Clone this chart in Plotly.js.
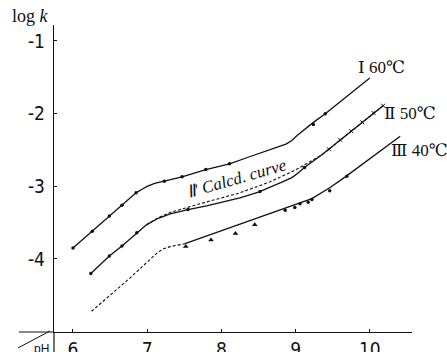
<!DOCTYPE html>
<html>
<head>
<meta charset="utf-8">
<script src="https://cdn.plot.ly/plotly-3.0.1.min.js"></script>
<style>html,body{margin:0;padding:0;background:#fff;}#chart{width:447px;height:352px;}</style>
</head>
<body>
<div id="chart"></div>
<script>
// Curve I (60 °C)
const c1_pH   = [6.00, 6.26, 6.49, 6.66, 6.85, 6.93, 7.00, 7.10, 7.23, 7.47, 7.79, 8.11, 8.36, 8.70, 8.87, 8.95, 9.02, 9.24, 9.40, 10.00];
const c1_logk = [-3.85, -3.62, -3.41, -3.26, -3.09, -3.04, -3.00, -2.96, -2.93, -2.87, -2.77, -2.69, -2.60, -2.48, -2.42, -2.37, -2.30, -2.12, -2.00, -1.51];
const p1_pH   = [6.00, 6.26, 6.49, 6.66, 6.85, 7.23, 7.47, 7.79, 8.11, 9.24, 9.40];
const p1_logk = [-3.85, -3.62, -3.41, -3.26, -3.09, -2.93, -2.87, -2.77, -2.69, -2.15, -2.00];

// Curve II (50 °C)
const c2_pH   = [6.24, 6.49, 6.66, 6.86, 6.99, 7.15, 7.31, 7.55, 7.80, 8.25, 8.50, 8.80, 8.95, 9.03, 9.12, 9.35, 9.65, 10.18];
const c2_logk = [-4.20, -3.96, -3.82, -3.64, -3.53, -3.44, -3.38, -3.32, -3.27, -3.16, -3.08, -2.95, -2.88, -2.82, -2.74, -2.57, -2.32, -1.89];
const p2_pH   = [6.24, 6.49, 6.66, 6.86, 7.55, 8.52, 9.12];
const p2_logk = [-4.20, -3.96, -3.82, -3.64, -3.32, -3.07, -2.74];
const x2_pH   = [9.45, 9.60, 9.75, 9.90, 10.05, 10.18];
const x2_logk = [-2.49, -2.36, -2.24, -2.12, -1.99, -1.89];

// Curve II' (calculated)
const cc_pH   = [6.99, 7.15, 7.31, 7.71, 8.25, 8.65, 9.01, 9.35, 10.18];
const cc_logk = [-3.53, -3.43, -3.36, -3.24, -3.09, -2.94, -2.77, -2.57, -1.89];

// Curve III (40 °C)
const c3d_pH   = [6.25, 6.77, 7.13, 7.22, 7.31, 7.51];
const c3d_logk = [-4.72, -4.26, -3.92, -3.86, -3.83, -3.79];
const c3_pH    = [7.51, 8.61, 8.92, 9.06, 9.22, 9.46, 9.67, 10.41];
const c3_logk  = [-3.79, -3.39, -3.28, -3.23, -3.17, -3.02, -2.87, -2.31];
const t3_pH    = [7.52, 7.86, 8.19, 8.45];
const t3_logk  = [-3.83, -3.74, -3.65, -3.53];
const p3_pH    = [8.86, 8.99, 9.06, 9.17, 9.22, 9.46, 9.69];
const p3_logk  = [-3.33, -3.29, -3.24, -3.22, -3.18, -3.06, -2.86];

// Ticks
const xTicks = [6, 7, 8, 9, 10];
const xTickText = ["6", "7", "8", "9", "10"];
const yTicks = [-1, -2, -3, -4];
const yTickText = ["-1", "-2", "-3", "-4"];

const black = '#111';
const solid = {color: black, width: 1.3};
const dashed = {color: black, width: 1.1, dash: '3px,2px'};

const traces = [
  {x: c1_pH, y: c1_logk, mode: 'lines', line: solid},
  {x: p1_pH, y: p1_logk, mode: 'markers', marker: {color: black, size: 3.5}},
  {x: cc_pH, y: cc_logk, mode: 'lines', line: dashed},
  {x: c2_pH, y: c2_logk, mode: 'lines', line: solid},
  {x: p2_pH, y: p2_logk, mode: 'markers', marker: {color: black, size: 3.5}},
  {x: x2_pH, y: x2_logk, mode: 'markers', marker: {color: black, size: 4, symbol: 'x-thin', line: {color: black, width: 1}}},
  {x: c3d_pH, y: c3d_logk, mode: 'lines', line: dashed},
  {x: c3_pH, y: c3_logk, mode: 'lines', line: solid},
  {x: t3_pH, y: t3_logk, mode: 'markers', marker: {color: black, size: 5, symbol: 'triangle-up'}},
  {x: p3_pH, y: p3_logk, mode: 'markers', marker: {color: black, size: 3.5}}
];

const tickFont = {family: '"Liberation Sans Narrow", "DejaVu Sans Condensed", "Liberation Sans", sans-serif', size: 19, color: black};
const labelFont = {family: '"Liberation Serif", "DejaVu Serif", serif', size: 17, color: black};

const layout = {
  width: 447, height: 352,
  margin: {l: 54, r: 35, t: 25, b: 20},
  paper_bgcolor: '#fff', plot_bgcolor: '#fff',
  showlegend: false,
  xaxis: {
    range: [5.744, 10.569], showgrid: false, zeroline: false,
    showline: true, linecolor: black, linewidth: 1.2,
    ticks: 'inside', ticklen: 3, tickcolor: black,
    tickvals: xTicks, ticktext: xTickText, tickfont: tickFont,
    ticklabelstandoff: 0
  },
  yaxis: {
    range: [-5.005, -0.78], showgrid: false, zeroline: false,
    showline: true, linecolor: black, linewidth: 1.2,
    ticks: 'inside', ticklen: 3, tickcolor: black,
    tickvals: yTicks, ticktext: yTickText, tickfont: tickFont,
    ticklabelstandoff: 4
  },
  shapes: [
    {type: 'line', xref: 'paper', yref: 'paper', x0: -0.098, x1: 0, y0: 0, y1: 0, line: {color: black, width: 1.2}},
    {type: 'line', xref: 'paper', yref: 'paper', x0: 0, x1: 0, y0: 0, y1: -0.07, line: {color: black, width: 1.2}},
    {type: 'line', xref: 'paper', yref: 'paper', x0: -0.1006, x1: -0.0112, y0: -0.052, y1: 0.0033, line: {color: black, width: 1}}
  ],
  annotations: [
    {xref: 'paper', yref: 'paper', x: -0.067, y: 1.029, xanchor: 'center', yanchor: 'middle', text: 'log <i>k</i>', showarrow: false, font: {family: '"Liberation Serif", serif', size: 18, color: black}},
    {xref: 'paper', yref: 'paper', x: -0.034, y: -0.055, xanchor: 'center', yanchor: 'middle', text: 'pH', showarrow: false, font: {family: '"Liberation Sans", sans-serif', size: 12, color: black}},
    {xref: 'paper', yref: 'paper', x: 0.916, y: 0.860, xanchor: 'center', yanchor: 'middle', text: 'Ⅰ 60℃', showarrow: false, font: labelFont},
    {xref: 'paper', yref: 'paper', x: 0.994, y: 0.713, xanchor: 'center', yanchor: 'middle', text: 'Ⅱ 50℃', showarrow: false, font: labelFont},
    {xref: 'paper', yref: 'paper', x: 1.022, y: 0.590, xanchor: 'center', yanchor: 'middle', text: 'Ⅲ 40℃', showarrow: false, font: labelFont},
    {x: 8.21, y: -2.89, text: "<i>Ⅱ' Calcd. curve</i>", textangle: -16, showarrow: false, font: {family: '"Liberation Serif", serif', size: 17, color: black}}
  ]
};

Plotly.newPlot('chart', traces, layout, {displayModeBar: false, staticPlot: true});
</script>
</body>
</html>
